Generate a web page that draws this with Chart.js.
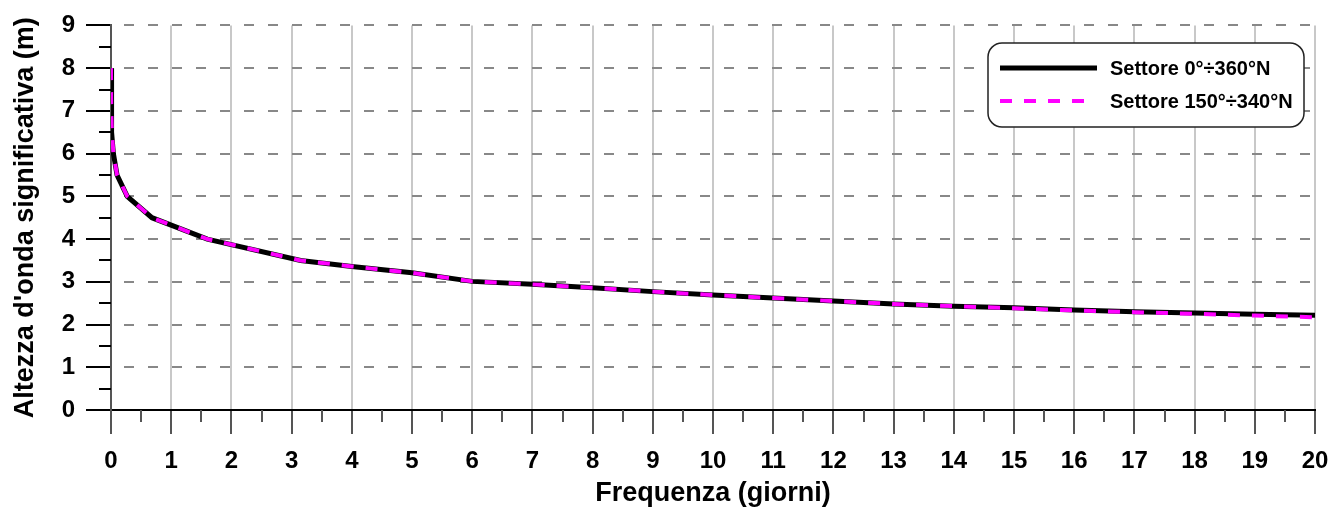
<!DOCTYPE html>
<html>
<head>
<meta charset="utf-8">
<script src="https://cdn.jsdelivr.net/npm/chart.js@4.4.1/dist/chart.umd.min.js"></script>
<style>
  html, body { margin: 0; padding: 0; background: #fff; }
  #wrap { width: 1342px; height: 515px; }
</style>
</head>
<body>
<div id="wrap"><canvas id="chart" width="1342" height="515"></canvas></div>
<script>
// Curva di durata: altezza d'onda significativa vs frequenza (giorni)
const FONT = "'Liberation Sans Narrow', 'Arial Narrow', 'Liberation Sans', Arial, sans-serif";

const freqDays  = [0, 0.004, 0.015, 0.04, 0.1, 0.27, 0.68, 1.6, 3.15, 4, 5, 6, 7, 8, 9, 10, 11, 12, 13, 14, 15, 16, 17, 18, 19, 20];
const hsAll     = [8, 7, 6.5, 6, 5.5, 5, 4.5, 4, 3.5, 3.36, 3.21, 3.01, 2.94, 2.86, 2.77, 2.69, 2.62, 2.55, 2.48, 2.43, 2.39, 2.34, 2.30, 2.27, 2.24, 2.22];
const hsSector  = [8, 7, 6.5, 6, 5.5, 5, 4.5, 4, 3.5, 3.36, 3.21, 3.01, 2.94, 2.86, 2.77, 2.69, 2.62, 2.55, 2.48, 2.43, 2.38, 2.33, 2.29, 2.25, 2.21, 2.17];
const seriesNames = ['Settore 0°÷360°N', 'Settore 150°÷340°N'];

const xMax = 20, yMax = 9;

function pts(xs, ys){ return xs.map((x,i)=>({x:x, y:ys[i]})); }

// minor ticks at half steps + rounded legend box
const extras = {
  id: 'extras',
  afterDraw(chart){
    const ctx = chart.ctx, xs = chart.scales.x, ys = chart.scales.y;
    ctx.save();
    ctx.lineWidth = 2;
    ctx.strokeStyle = '#555';
    for(let v=0.5; v<xMax; v+=1){
      const px = Math.round(xs.getPixelForValue(v));
      ctx.beginPath(); ctx.moveTo(px, xs.top); ctx.lineTo(px, xs.top+12); ctx.stroke();
    }
    ctx.strokeStyle = '#000';
    for(let v=0.5; v<yMax; v+=1){
      const py = Math.round(ys.getPixelForValue(v));
      ctx.beginPath(); ctx.moveTo(ys.right-12, py); ctx.lineTo(ys.right, py); ctx.stroke();
    }

    // legend
    const bx = 988, by = 43, bw = 316, bh = 84, r = 14;
    ctx.beginPath();
    ctx.roundRect(bx, by, bw, bh, r);
    ctx.fillStyle = '#fff'; ctx.fill();
    ctx.lineWidth = 1.5; ctx.strokeStyle = '#222'; ctx.stroke();
    const ds = chart.data.datasets;
    const rows = [68, 101];
    ds.forEach((d,i)=>{
      ctx.beginPath();
      ctx.setLineDash(d.borderDash || []);
      ctx.lineWidth = d.borderWidth;
      ctx.strokeStyle = d.borderColor;
      ctx.moveTo(1000, rows[i]); ctx.lineTo(i===0 ? 1097 : 1087, rows[i]); ctx.stroke();
      ctx.setLineDash([]);
      ctx.fillStyle = '#000';
      ctx.font = 'bold 20px ' + FONT;
      ctx.textBaseline = 'middle';
      ctx.textAlign = 'left';
      ctx.fillText(d.label, 1110, rows[i]+1);
    });
    ctx.restore();
  }
};

new Chart(document.getElementById('chart'), {
  type: 'line',
  data: {
    datasets: [
      { label: seriesNames[0], data: pts(freqDays, hsAll), borderColor: '#000', borderWidth: 5, pointRadius: 0, tension: 0, fill: false, order: 2 },
      { label: seriesNames[1], data: pts(freqDays, hsSector), borderColor: '#ff00ff', borderWidth: 4, borderDash: [12,12], pointRadius: 0, tension: 0, fill: false, order: 1 }
    ]
  },
  options: {
    responsive: false,
    animation: false,
    layout: { padding: { top: 25, right: 27, left: 0, bottom: 0 } },
    plugins: { legend: { display: false }, tooltip: { enabled: false } },
    scales: {
      x: {
        type: 'linear', min: 0, max: xMax,
        afterFit(s){ s.height = 105; },
        ticks: { stepSize: 1, color: '#000', padding: 13, font: { family: FONT, size: 24, weight: 'bold' } },
        grid: { color: '#c8c8c8', lineWidth: 2, tickLength: 24, tickColor: '#555', tickWidth: 2 },
        border: { display: true, color: '#000', width: 2 },
        title: { display: true, text: 'Frequenza (giorni)', color: '#000', padding: { bottom: 5 }, font: { family: FONT, size: 27, weight: 'bold' } }
      },
      y: {
        min: 0, max: yMax,
        afterFit(s){ s.width = 111; },
        ticks: { stepSize: 1, color: '#000', padding: 11, font: { family: FONT, size: 24, weight: 'bold' } },
        grid: { color: '#888', lineWidth: 2, tickLength: 25, tickColor: '#000', tickWidth: 2 },
        border: { display: true, color: '#555', width: 2, dash: [10,14], dashOffset: -12 },
        title: { display: true, text: "Altezza d'onda significativa (m)", color: '#000', padding: { top: 9 }, font: { family: FONT, size: 27, weight: 'bold' } }
      }
    }
  },
  plugins: [extras]
});
</script>
</body>
</html>
